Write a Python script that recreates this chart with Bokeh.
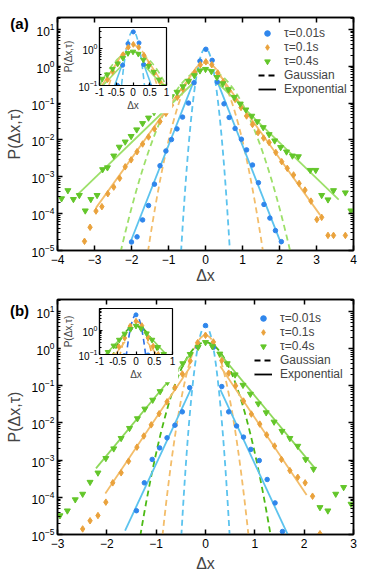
import numpy as np
from bokeh.plotting import figure
from bokeh.core.properties import value
from bokeh.models import (Range1d, LinearAxis, LogAxis, FixedTicker, LogTickFormatter,
                          NumeralTickFormatter, CustomJSTickFormatter, Legend,
                          LegendItem, GridBox)
from bokeh.layouts import column
from bokeh.embed import file_html
from bokeh.resources import INLINE

FONT = "Liberation Sans"

# ---------------- data: panel (a) ----------------
a_blue_x = [-2.00, -1.85, -1.70, -1.54, -1.38, -1.23, -1.07, -0.92, -0.77, -0.62, -0.46, -0.31, -0.15,
            0.01, 0.18, 0.32, 0.50, 0.64, 0.80, 0.97, 1.11, 1.27, 1.43, 1.58, 1.74, 1.89, 2.05]
a_blue_log10P = [-4.77, -4.63, -4.17, -3.78, -3.20, -2.70, -2.30, -1.99, -1.70, -1.38, -1.00, -0.45, 0.14,
                 0.46, 0.16, -0.43, -1.02, -1.39, -1.69, -1.98, -2.27, -2.68, -3.16, -3.75, -4.12, -4.46, -4.76]

a_orange_x = [-3.27, -3.12, -2.96, -2.80, -2.64, -2.48, -2.32, -2.17, -2.01, -1.85,
              -1.70, -1.54, -1.38, -1.23, -1.07, -0.92, -0.76, -0.61, -0.45, -0.29,
              -0.14, 0.01, 0.17, 0.33, 0.48, 0.64, 0.80, 0.96, 1.11, 1.27,
              1.42, 1.57, 1.72, 1.90, 2.06, 2.21, 2.38, 2.53, 2.69, 2.85,
              3.01, 3.14, 3.31, 3.46, 3.78]
a_orange_log10P = [-4.75, -4.37, -3.93, -3.81, -3.46, -3.28, -3.04, -2.73, -2.54, -2.32,
                   -2.11, -1.92, -1.70, -1.50, -1.28, -1.06, -0.84, -0.62, -0.40, -0.16,
                   0.04, 0.12, 0.04, -0.18, -0.42, -0.66, -0.90, -1.12, -1.35, -1.58,
                   -1.80, -1.95, -2.07, -2.34, -2.59, -2.77, -2.95, -3.18, -3.36, -3.66,
                   -4.16, -4.10, -4.59, -4.59, -4.59]

a_green_x = [-3.89, -3.72, -3.57, -3.41, -3.25, -3.10, -2.93, -2.78, -2.65, -2.48,
             -2.33, -2.17, -2.01, -1.86, -1.70, -1.54, -1.39, -1.23, -1.08, -0.92,
             -0.77, -0.61, -0.46, -0.30, -0.15, 0.00, 0.16, 0.31, 0.47, 0.62,
             0.78, 0.94, 1.09, 1.25, 1.40, 1.56, 1.72, 1.87, 2.03, 2.19,
             2.35, 2.51, 2.83, 2.98, 3.14, 3.31, 3.46, 3.78, 3.93]
a_green_log10P = [-3.59, -3.37, -3.61, -3.50, -3.92, -3.61, -3.50, -2.80, -2.75, -2.43,
                  -2.19, -2.05, -1.90, -1.72, -1.55, -1.40, -1.25, -1.10, -0.95, -0.82,
                  -0.70, -0.55, -0.40, -0.25, -0.12, -0.08, -0.14, -0.30, -0.47, -0.63,
                  -0.84, -1.02, -1.18, -1.35, -1.50, -1.66, -1.85, -2.02, -2.20, -2.32,
                  -2.43, -2.45, -2.82, -2.82, -3.50, -3.62, -3.37, -3.43, -3.92]

# fit parameters: blue, orange, green
a_gauss_sigma = [0.131, 0.32, 0.48]
a_exp_log10_intercept = [0.40, 0.30, -0.13]
a_exp_slope = [2.55, 1.40, 0.97]
a_exp_left = [-2.03, -2.96, -3.48]
a_exp_right = [2.05, 3.10, 3.60]

# ---------------- data: panel (b) ----------------
b_blue_x = [-1.40, -1.24, -1.08, -0.93, -0.78, -0.62, -0.47, -0.32, -0.16, 0.00,
            0.16, 0.33, 0.47, 0.63, 0.77, 0.92, 1.09, 1.25, 1.41, 1.56]
b_blue_log10P = [-4.36, -3.61, -2.98, -2.67, -2.40, -2.06, -1.70, -1.05, 0.05, 0.62,
                 0.04, -1.02, -1.70, -2.08, -2.38, -2.71, -3.01, -3.52, -4.15, -4.92]

b_orange_x = [-2.49, -2.34, -2.18, -2.02, -1.88, -1.71, -1.56, -1.39, -1.25, -1.10,
              -0.94, -0.78, -0.62, -0.47, -0.31, -0.16, 0.00, 0.16, 0.33, 0.47,
              0.61, 0.77, 0.93, 1.10, 1.24, 1.40, 1.54, 1.71, 1.87, 2.02,
              2.17, 2.32]
b_orange_log10P = [-4.85, -4.63, -4.49, -4.13, -3.61, -3.34, -3.03, -2.65, -2.35, -2.05,
                   -1.75, -1.43, -1.05, -0.68, -0.33, 0.16, 0.36, 0.18, -0.32, -0.66,
                   -1.00, -1.41, -1.76, -2.03, -2.32, -2.62, -2.98, -3.28, -3.46, -3.61,
                   -3.97, -4.98]

b_green_x = [-2.95, -2.80, -2.64, -2.49, -2.34, -2.18, -2.02, -1.86, -1.71, -1.54,
             -1.38, -1.23, -1.07, -0.92, -0.77, -0.61, -0.46, -0.31, -0.15, 0.00,
             0.14, 0.29, 0.44, 0.60, 0.76, 0.91, 1.07, 1.23, 1.39, 1.55,
             1.71, 1.87, 2.03, 2.19, 2.32, 2.48, 2.64, 2.80, 2.95]
b_green_log10P = [-4.49, -4.36, -4.06, -3.91, -3.59, -3.34, -2.95, -2.69, -2.41, -2.14,
                  -1.88, -1.62, -1.38, -1.15, -0.90, -0.64, -0.40, -0.15, 0.04, 0.17,
                  0.06, -0.14, -0.40, -0.70, -0.98, -1.22, -1.48, -1.72, -1.97, -2.22,
                  -2.41, -2.62, -2.98, -3.24, -4.27, -4.36, -3.91, -3.73, -4.18]

b_gauss_sigma = [0.096, 0.175, 0.27]
b_exp_log10_intercept = [-0.25, 0.12, 0.33]
b_exp_slope = [2.85, 1.98, 1.60]
b_exp_left = [-1.63, -2.03, -2.22]
b_exp_right = [1.68, 2.05, 2.22]

series_labels = ["τ=0.01s", "τ=0.1s", "τ=0.4s"]
a_xticks = [-4, -3, -2, -1, 0, 1, 2, 3, 4]
b_xticks = [-3, -2, -1, 0, 1, 2, 3]
inset_xticks = [-1, -0.5, 0, 0.5, 1]
exp_inner = 0.3

# ---------------- styles ----------------
MARKERS = ["circle", "diamond", "inverted_triangle"]
MSIZE = [4.5, 6.5, 6]
MCOL = ["#2f86ec", "#eaa23c", "#63c62a"]
a_LCOL = ["#5cc3ee", "#f3bd6a", "#9de06a"]
a_DCOL = ["#5cc3ee", "#f3bd6a", "#9de06a"]
b_LCOL = ["#5cc3ee", "#f3bd6a", "#8ed85a"]
b_DCOL = ["#5cc3ee", "#f3bd6a", "#4cba14"]
ins_b_DCOL = ["#2c6fe6", "#f0a83a", "#4cba14"]
DASH = "6 4"

BLANK = CustomJSTickFormatter(code="return ''")


def decades(lo, hi):
    major = [10.0 ** k for k in range(lo, hi + 1)]
    minor = [m * 10.0 ** k for k in range(lo - 1, hi + 1) for m in range(2, 10)]
    return major, minor


def gauss_curve(sigma, pmin):
    amp = 1.0 / (sigma * np.sqrt(2 * np.pi))
    xl = sigma * np.sqrt(2 * np.log(amp / pmin))
    x = np.linspace(-xl, xl, 301)
    return x, amp * np.exp(-x ** 2 / (2 * sigma ** 2))


def exp_segments(b0, s, xl, xr):
    f = lambda x: 10.0 ** (b0 - s * abs(x))
    return ([[xl, -exp_inner], [exp_inner, xr]],
            [[f(xl), f(-exp_inner)], [f(exp_inner), f(xr)]])


def style_axis(ax, font_size, tick_in, minor_in, lw):
    ax.axis_line_width = lw
    ax.major_tick_in = tick_in
    ax.major_tick_out = 0
    ax.minor_tick_in = minor_in
    ax.minor_tick_out = 0
    ax.major_tick_line_width = lw
    ax.major_label_text_font = FONT
    ax.major_label_text_font_size = font_size
    ax.major_label_text_color = "black"
    ax.axis_label_text_font = FONT
    ax.axis_label_text_font_style = "normal"


def draw_data(p, xs, ys, sig, b0, sl, xl, xr, lcol, dcol, pmin, msc=1.0, lw=1.8):
    for i in range(3):
        gx, gy = gauss_curve(sig[i], pmin)
        p.line(gx, gy, line_color=dcol[i], line_width=lw, line_dash=DASH)
    for i in range(3):
        ex, ey = exp_segments(b0[i], sl[i], xl[i], xr[i])
        p.multi_line(ex, ey, line_color=lcol[i], line_width=lw)
    rs = []
    for i in range(3):
        yv = [10.0 ** v for v in ys[i]]
        r = p.scatter(xs[i], yv, marker=MARKERS[i], size=MSIZE[i] * msc,
                      fill_color=MCOL[i], line_color=MCOL[i])
        rs.append(r)
    return rs


def make_main(xs, ys, sig, b0, sl, xl, xr, lcol, dcol, xrange_, xticks, fw, fh,
              borders, leg_loc, xlab_standoff):
    left, top, right, bottom = borders
    p = figure(frame_width=fw, frame_height=fh, x_range=Range1d(*xrange_),
               y_range=Range1d(1e-5, 21), y_axis_type="log",
               output_backend="svg", toolbar_location=None,
               min_border_left=left, min_border_top=top,
               min_border_right=right, min_border_bottom=bottom)
    p.xgrid.visible = False
    p.ygrid.visible = False
    p.outline_line_color = "black"
    p.outline_line_width = 1.5
    p.background_fill_color = "white"
    p.border_fill_color = "white"

    major, minor = decades(-5, 1)
    p.yaxis.ticker = FixedTicker(ticks=major, minor_ticks=minor)
    p.yaxis.formatter = LogTickFormatter()
    p.xaxis.ticker = FixedTicker(ticks=xticks)
    for ax in (p.xaxis[0], p.yaxis[0]):
        style_axis(ax, "12px", 5, 3, 1.5)
    p.xaxis.minor_tick_line_color = None
    p.yaxis.major_label_standoff = 3
    p.xaxis.major_label_standoff = 4
    p.yaxis.axis_label = "P(Δx,τ)"
    p.xaxis.axis_label = "Δx"
    p.yaxis.axis_label_text_font_size = "16px"
    p.xaxis.axis_label_text_font_size = "16px"
    p.yaxis.axis_label_standoff = 6
    p.xaxis.axis_label_standoff = xlab_standoff

    top_ax = LinearAxis(ticker=FixedTicker(ticks=xticks), formatter=BLANK)
    right_ax = LogAxis(ticker=FixedTicker(ticks=major, minor_ticks=minor), formatter=BLANK)
    for ax in (top_ax, right_ax):
        style_axis(ax, "2px", 5, 3, 1.5)
        ax.major_label_standoff = 0
    top_ax.minor_tick_line_color = None
    p.add_layout(top_ax, "above")
    p.add_layout(right_ax, "right")

    rs = draw_data(p, xs, ys, sig, b0, sl, xl, xr, lcol, dcol, 5e-6)

    # legend-only renderers (NaN data draws nothing in the plot area)
    dash = p.line([np.nan], [np.nan], line_color="black", line_width=1.8, line_dash=DASH)
    solid = p.line([np.nan], [np.nan], line_color="black", line_width=1.8)
    items = [LegendItem(label=series_labels[i], renderers=[rs[i]]) for i in range(3)]
    items += [LegendItem(label="Gaussian", renderers=[dash]),
              LegendItem(label="Exponential", renderers=[solid])]
    leg = Legend(items=items, location=leg_loc, padding=0, spacing=0, margin=0,
                 glyph_width=18, glyph_height=14, label_height=14, label_standoff=8,
                 label_text_font=FONT, label_text_font_size="12px",
                 background_fill_alpha=0, border_line_color=None)
    p.add_layout(leg)
    return p


def make_tag(text, w, h):
    t = figure(width=w, height=h, x_range=Range1d(0, 1), y_range=Range1d(0, 1),
               x_axis_location=None, y_axis_location=None, toolbar_location=None,
               output_backend="svg", min_border=0, outline_line_color=None)
    t.xgrid.visible = False
    t.ygrid.visible = False
    t.background_fill_alpha = 0
    t.border_fill_alpha = 0
    t.text(x=[0.5], y=[0.5], text=[text], text_font=value(FONT), text_font_size="15px",
           text_font_style="bold", text_align="center", text_baseline="middle",
           text_color="black")
    return t


def make_inset(xs, ys, sig, b0, sl, xl, xr, lcol, dcol, fw, fh, ytop):
    p = figure(frame_width=fw, frame_height=fh, x_range=Range1d(-1, 1),
               y_range=Range1d(0.1, ytop), y_axis_type="log",
               output_backend="svg", toolbar_location=None,
               min_border_left=26, min_border_top=3, min_border_right=6, min_border_bottom=26)
    p.xgrid.visible = False
    p.ygrid.visible = False
    p.outline_line_color = "black"
    p.outline_line_width = 1.2
    p.border_fill_color = "white"
    p.yaxis.ticker = FixedTicker(ticks=[0.1, 1.0], minor_ticks=[0.2, 0.3, 0.4, 0.5, 0.6, 0.7, 0.8, 0.9,
                                                               2.0, 3.0, 4.0, 5.0, 6.0, 7.0, 8.0, 9.0])
    p.yaxis.formatter = LogTickFormatter()
    p.xaxis.ticker = FixedTicker(ticks=inset_xticks)
    p.xaxis.formatter = NumeralTickFormatter(format="0.[0]")
    for ax in (p.xaxis[0], p.yaxis[0]):
        style_axis(ax, "10px", 3, 2, 1.2)
        ax.major_label_standoff = 2
        ax.axis_label_text_font_size = "10px"
        ax.axis_label_standoff = 1
    p.xaxis.minor_tick_line_color = None
    p.yaxis.axis_label = "P(Δx,τ)"
    p.xaxis.axis_label = "Δx"
    draw_data(p, xs, ys, sig, b0, sl, xl, xr, lcol, dcol, 0.03, msc=0.9, lw=1.6)
    return p


a_xs = [a_blue_x, a_orange_x, a_green_x]
a_ys = [a_blue_log10P, a_orange_log10P, a_green_log10P]
b_xs = [b_blue_x, b_orange_x, b_green_x]
b_ys = [b_blue_log10P, b_orange_log10P, b_green_log10P]

pa = make_main(a_xs, a_ys, a_gauss_sigma, a_exp_log10_intercept, a_exp_slope, a_exp_left, a_exp_right,
               a_LCOL, a_DCOL, (-4, 4), a_xticks, 296, 233, (57, 17, 12, 41), (201, 154), 0)
ia = make_inset(a_xs, a_ys, a_gauss_sigma, a_exp_log10_intercept, a_exp_slope, a_exp_left, a_exp_right,
                a_LCOL, a_DCOL, 80, 60, 3.8)
ta = make_tag("(a)", 30, 24)

pb = make_main(b_xs, b_ys, b_gauss_sigma, b_exp_log10_intercept, b_exp_slope, b_exp_left, b_exp_right,
               b_LCOL, b_DCOL, (-3, 3), b_xticks, 296, 235, (57, 8, 12, 35), (197, 153), 4)
ib = make_inset(b_xs, b_ys, b_gauss_sigma, b_exp_log10_intercept, b_exp_slope, b_exp_left, b_exp_right,
                b_LCOL, ins_b_DCOL, 86, 48, 7.6)
tb = make_tag("(b)", 30, 24)

grid_a = GridBox(children=[(pa, 0, 0, 5, 5), (ta, 1, 1, 2, 1), (ia, 2, 3, 2, 1)],
                 rows=["11px", "13px", "11px", "78px", "auto"],
                 cols=["4px", "30px", "26px", "112px", "auto"])
grid_b = GridBox(children=[(pb, 0, 0, 5, 5), (tb, 1, 1, 2, 1), (ib, 2, 3, 2, 1)],
                 rows=["7px", "7px", "17px", "60px", "auto"],
                 cols=["4px", "30px", "26px", "118px", "auto"])

layout = column(grid_a, grid_b)
open("out.html", "w").write(file_html(layout, INLINE))
